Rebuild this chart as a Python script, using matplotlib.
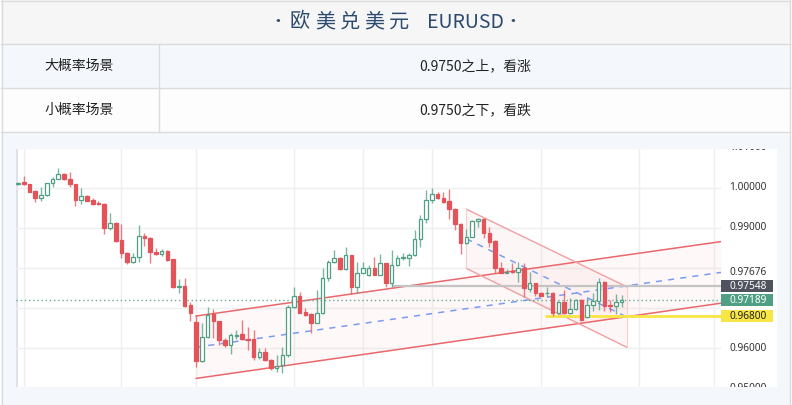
import matplotlib.pyplot as plt
from matplotlib.patches import Rectangle
import numpy as np

plt.rcParams['font.family'] = ['Noto Sans CJK SC', 'DejaVu Sans']

# ---- data ----
title_cn = "欧美兑美元"
title_en = "EURUSD"
row_labels = ["大概率场景", "小概率场景"]
row_texts = ["0.9750之上，看涨", "0.9750之下，看跌"]

opens = [
    1.00088, 1.00143, 1.00100, 0.99925, 0.99750, 0.99833, 1.00118, 1.00225, 1.00350, 1.00225,
    1.00100, 0.99700, 0.99793, 0.99693, 0.99633, 0.99608, 0.99008, 0.99133, 0.98693, 0.98368,
    0.98143, 0.98268, 0.98800, 0.98750, 0.98400, 0.98343, 0.98425, 0.98218, 0.97533, 0.97550,
    0.97075, 0.96658, 0.95683, 0.96268, 0.96850, 0.96675, 0.96200, 0.96068, 0.96308, 0.96343,
    0.96218, 0.96218, 0.95783, 0.95908, 0.95700, 0.95500, 0.95568, 0.95825, 0.97018, 0.97308,
    0.96893, 0.96850, 0.96633, 0.96868, 0.97758, 0.98143, 0.98243, 0.97975, 0.98318, 0.97518,
    0.97883, 0.97825, 0.98008, 0.97833, 0.98118, 0.97633, 0.98068, 0.98243, 0.98250, 0.98318,
    0.98733, 0.99233, 0.99693, 0.99850, 0.99743, 0.99675, 0.99475, 0.99100, 0.98618, 0.98783,
    0.99175, 0.99218, 0.98868, 0.98675, 0.98008, 0.97883, 0.97918, 0.97900, 0.98008, 0.97483,
    0.97618, 0.97368, 0.97368, 0.97383, 0.96868, 0.97150, 0.96883, 0.96968, 0.97188, 0.96768,
    0.97075, 0.97183, 0.97658, 0.97063, 0.97043, 0.97158]
highs = [
    1.00150, 1.00308, 1.00110, 0.99950, 1.00033, 1.00133, 1.00283, 1.00500, 1.00368, 1.00408,
    1.00110, 0.99993, 0.99825, 0.99758, 0.99675, 0.99615, 0.99368, 0.99140, 0.99100, 0.98408,
    0.98383, 0.99068, 0.98868, 0.98768, 0.98493, 0.98475, 0.98450, 0.98225, 0.97718, 0.97750,
    0.97158, 0.96825, 0.96618, 0.97033, 0.96975, 0.96680, 0.96243, 0.96368, 0.96450, 0.96700,
    0.96518, 0.96450, 0.95993, 0.95993, 0.95725, 0.95825, 0.96033, 0.97075, 0.97533, 0.97393,
    0.96993, 0.96883, 0.97450, 0.97993, 0.98200, 0.98450, 0.98268, 0.98533, 0.98325, 0.98158,
    0.98158, 0.98075, 0.98268, 0.98343, 0.98133, 0.98450, 0.98325, 0.98368, 0.98383, 0.98950,
    0.99325, 0.99950, 1.00008, 0.99908, 0.99908, 0.99968, 0.99493, 0.99118, 0.98968, 0.99200,
    0.99243, 0.99243, 0.99018, 0.98700, 0.98158, 0.97968, 0.98118, 0.98158, 0.98118, 0.97908,
    0.97633, 0.97408, 0.97533, 0.97408, 0.97183, 0.97450, 0.97243, 0.97233, 0.97218, 0.97243,
    0.97368, 0.97743, 0.97665, 0.97188, 0.97350, 0.97325]
lows = [
    1.00063, 1.00075, 0.99893, 0.99658, 0.99683, 0.99800, 1.00033, 1.00225, 1.00200, 1.00018,
    0.99558, 0.99593, 0.99668, 0.99575, 0.99568, 0.98850, 0.98950, 0.98658, 0.98243, 0.98093,
    0.98118, 0.98143, 0.98558, 0.98118, 0.98325, 0.98300, 0.98183, 0.97508, 0.97383, 0.97033,
    0.96683, 0.95533, 0.95643, 0.96243, 0.96243, 0.96068, 0.96018, 0.95850, 0.96218, 0.96200,
    0.95950, 0.95700, 0.95718, 0.95683, 0.95450, 0.95408, 0.95383, 0.95768, 0.96993, 0.96868,
    0.96808, 0.96368, 0.96625, 0.96850, 0.97683, 0.98118, 0.97950, 0.97950, 0.97350, 0.97368,
    0.97868, 0.97800, 0.97820, 0.97818, 0.97533, 0.97533, 0.98050, 0.98200, 0.98050, 0.98300,
    0.98533, 0.99118, 0.99618, 0.99718, 0.99618, 0.99233, 0.98950, 0.98343, 0.98600, 0.98768,
    0.99033, 0.98743, 0.98533, 0.97883, 0.97868, 0.97868, 0.97883, 0.97658, 0.97283, 0.97408,
    0.97300, 0.97293, 0.97283, 0.96808, 0.96850, 0.96850, 0.96850, 0.96950, 0.96668, 0.96743,
    0.96933, 0.96938, 0.96933, 0.96900, 0.96858, 0.97033]
closes = [
    1.00113, 1.00093, 0.99908, 0.99743, 0.99833, 1.00118, 1.00225, 1.00343, 1.00218, 1.00093,
    0.99700, 0.99793, 0.99683, 0.99608, 0.99600, 0.99000, 0.99133, 0.98683, 0.98368, 0.98143,
    0.98268, 0.98793, 0.98750, 0.98393, 0.98343, 0.98418, 0.98200, 0.97518, 0.97550, 0.97050,
    0.96868, 0.95675, 0.96268, 0.96825, 0.96675, 0.96200, 0.96068, 0.96318, 0.96333, 0.96218,
    0.96200, 0.95783, 0.95908, 0.95700, 0.95508, 0.95550, 0.95825, 0.97033, 0.97300, 0.96883,
    0.96833, 0.96633, 0.96868, 0.97758, 0.98143, 0.98243, 0.97975, 0.98318, 0.97533, 0.97883,
    0.98008, 0.98008, 0.97825, 0.98118, 0.97633, 0.98068, 0.98243, 0.98268, 0.98318, 0.98733,
    0.99233, 0.99693, 0.99850, 0.99743, 0.99658, 0.99468, 0.99100, 0.98618, 0.98783, 0.99175,
    0.99218, 0.98868, 0.98658, 0.98008, 0.97883, 0.97908, 0.97900, 0.98008, 0.97493, 0.97618,
    0.97383, 0.97308, 0.97383, 0.96868, 0.97158, 0.96883, 0.96968, 0.97188, 0.96708, 0.97075,
    0.97183, 0.97658, 0.97043, 0.97043, 0.97143, 0.97189]

price_ticks = [0.95, 0.96, 0.97, 0.98, 0.99, 1.00, 1.01]
hidden_ticks = [0.97, 0.98]   # covered by the badges / channel label
grid_bars = [1, 18, 31, 48, 60, 72, 91, 108, 121]

# drawings (bar index, price)
asc_x = [31, 122.3]
asc_upper = [0.9680, 0.9866]
asc_lower = [0.9524, 0.9712]
desc_x = [78, 105.9]
desc_upper = [0.9947, 0.9753]
desc_lower = [0.9799, 0.9602]
resist_level, resist_from = 0.97548, 65
support_level, support_from = 0.96800, 91.7
last_price = 0.97189
mid_label = "0.97676"

RED = '#e5535a'
GREEN = '#4e9f83'
W, H = 792, 405
XMIN, XMAX = -0.35, 122.3
YMIN, YMAX = 0.95025, 1.00975

fig = plt.figure(figsize=(W / 100, H / 100), dpi=100)

# ---- table / page background in pixel coords ----
bg = fig.add_axes([0, 0, 1, 1])
bg.set_xlim(0, W)
bg.set_ylim(H, 0)
bg.axis('off')
bg.add_patch(Rectangle((1, 0), 789, 44, fc='#f6f6f6', ec='none'))
bg.add_patch(Rectangle((1, 44), 789, 44, fc='#f4f8fd', ec='none'))
bg.add_patch(Rectangle((1, 88), 789, 44, fc='#fdfdfd', ec='none'))
bg.add_patch(Rectangle((1, 132), 789, 273, fc='#f4f7fc', ec='none'))
bg.add_patch(Rectangle((16, 149), 761, 238, fc='white', ec='none'))
bg.add_patch(Rectangle((16, 149), 1.5, 238, fc='#dde2ea', ec='none'))
line_c = '#dcdcdc'
for y in [0.5, 44, 88, 132]:
    bg.plot([1, 790], [y, y], color=line_c, lw=1)
bg.plot([159, 159], [44, 132], color=line_c, lw=1)
bg.plot([1.5, 1.5], [0, H], color=line_c, lw=1)
bg.plot([789.5, 789.5], [0, H], color=line_c, lw=1)

tcol = '#2c4a6e'
bg.text(278, 22, '•', ha='center', va='center', fontsize=12, color=tcol)
bg.text(513, 22, '•', ha='center', va='center', fontsize=12, color=tcol)
for k, ch in enumerate(title_cn):
    bg.text(300 + 24.8 * k, 22, ch, ha='center', va='center', fontsize=14.5, color=tcol)
bg.text(465, 22, title_en, ha='center', va='center', fontsize=14, color=tcol)
for r, (lab, txt) in enumerate(zip(row_labels, row_texts)):
    yc = 66 + 44 * r
    bg.text(79.5, yc, lab, ha='center', va='center', fontsize=10, color='#222222')
    bg.text(475, yc, txt, ha='center', va='center', fontsize=10, color='#222222')

# ---- candlestick panel ----
ax = fig.add_axes([16 / W, (H - 387) / H, (721 - 16) / W, (387 - 149) / H])
ax.set_facecolor('none')
ax.set_xlim(XMIN, XMAX)
ax.set_ylim(YMIN, YMAX)
for s in ax.spines.values():
    s.set_visible(False)
ax.set_xticks([])
ax.set_yticks([])
for t in price_ticks:
    ax.axhline(t, color='#efefef', lw=1, zorder=0)
for b in grid_bars:
    ax.axvline(b, color='#efefef', lw=1, zorder=0)

# ascending channel
ax.fill_between(asc_x, asc_lower, asc_upper, color='#f3a0a4', alpha=0.07, lw=0, zorder=1)
ax.plot(asc_x, asc_upper, color='#e8686c', lw=1.1, zorder=2)
ax.plot(asc_x, asc_lower, color='#e8686c', lw=1.1, zorder=2)
ax.plot(asc_x, [(a + b) / 2 for a, b in zip(asc_upper, asc_lower)],
        color='#7a9cf5', lw=1.1, dashes=(4, 4), zorder=2)

# descending channel
ax.fill_between(desc_x, desc_lower, desc_upper, color='#f3a0a4', alpha=0.09, lw=0, zorder=1)
ax.plot(desc_x, desc_upper, color='#f0a0a3', lw=1, zorder=2)
ax.plot(desc_x, desc_lower, color='#f0a0a3', lw=1, zorder=2)
for j in range(2):
    ax.plot([desc_x[j], desc_x[j]], [desc_lower[j], desc_upper[j]], color='#f6cfd0', lw=0.8, zorder=2)
ax.plot(desc_x, [(a + b) / 2 for a, b in zip(desc_upper, desc_lower)],
        color='#7a9cf5', lw=1.1, dashes=(4, 4), zorder=2)

ax.hlines(resist_level, resist_from, XMAX, color='#c4c4c4', lw=1.6, zorder=2)
ax.hlines(support_level, support_from, XMAX, color='#f7e645', lw=2, zorder=2)
ax.axhline(last_price, color='#6aa894', lw=1, linestyle=(0, (1, 2)), zorder=2)

# candles
o = np.array(opens); h = np.array(highs); l = np.array(lows); c = np.array(closes)
x = np.arange(len(o))
up = c >= o
cols = np.where(up, GREEN, RED)
ax.vlines(x, l, h, colors=cols, lw=1, alpha=0.75, zorder=3)
body_h = np.maximum(np.abs(c - o), 0.00006)
ax.bar(x, body_h, bottom=np.minimum(o, c), width=0.62,
       color=np.where(up, 'white', RED), edgecolor=cols, linewidth=0.9, zorder=4)

# ---- price scale ----
axp = fig.add_axes([721 / W, (H - 387) / H, 56 / W, (387 - 149) / H])
axp.set_xlim(0, 56)
axp.set_ylim(YMIN, YMAX)
axp.axis('off')
lab_font = dict(fontsize=7.3, family=['Noto Sans', 'DejaVu Sans'], va='center', ha='left')
for t in price_ticks:
    if t in hidden_ticks:
        continue
    axp.text(8, t, f"{t:.5f}", color='#333333', clip_on=True, **lab_font)
mid_end = (asc_upper[1] + asc_lower[1]) / 2
axp.text(8, mid_end, mid_label, color='#333333', **lab_font)
badges = [(resist_level, '#50535e', 'white'),
          (last_price, '#4e9f83', 'white'),
          (support_level, '#f7e645', '#222222')]
for v, fc, tc in badges:
    axp.add_patch(Rectangle((0, v - 0.0015), 52, 0.003, fc=fc, ec='none'))
    axp.text(8, v, f"{v:.5f}", color=tc, **lab_font)

fig.savefig('out.png', dpi=100)
